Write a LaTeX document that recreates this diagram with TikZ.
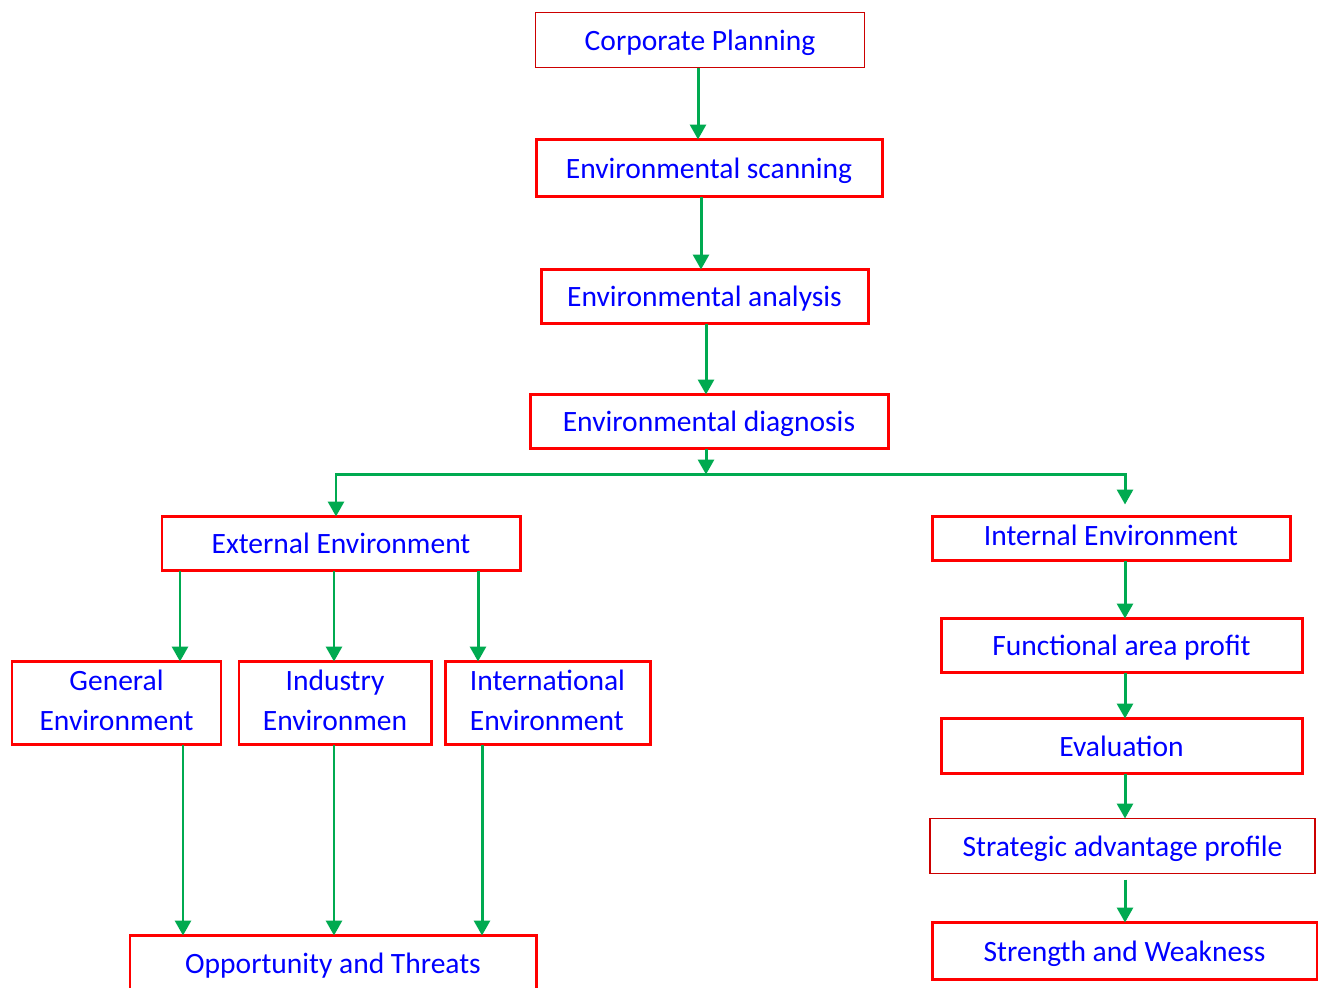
\documentclass[tikz,border=0pt]{standalone}
\usepackage{fontspec}
\setmainfont{Carlito}
\usepackage{tikz}
\usetikzlibrary{arrows.meta,positioning}
\definecolor{boxred}{RGB}{255,0,0}
\definecolor{flowgreen}{RGB}{0,170,80}
\definecolor{textblue}{RGB}{0,0,255}

\begin{document}
\begin{tikzpicture}[
  font=\fontsize{16.8}{22.8}\selectfont,
  block/.style={draw=boxred, line width=1.7pt, text=textblue, align=center,
    minimum height=10.8mm, inner sep=2pt, outer sep=0pt, text depth=0pt},
  thinblock/.style={block, draw=red!80!black, line width=0.9pt},
  flow/.style={-{Triangle[length=3mm, width=3.2mm]}, line width=1.7pt, draw=flowgreen}
]
\useasboundingbox (0,0) rectangle (263.6mm,-197.4mm);

% main chain
\node[thinblock, minimum width=65.8mm, minimum height=11mm] (corp) at (140mm,-8mm) {Corporate Planning};
\node[block, minimum width=69.2mm, minimum height=11.4mm, below=14.4mm of corp, xshift=1.8mm] (scan) {Environmental scanning};
\node[block, minimum width=65.4mm, below=14.6mm of scan, xshift=-0.9mm] (anal) {Environmental analysis};
\node[block, minimum width=71.6mm, below=14.2mm of anal, xshift=0.9mm] (diag) {Environmental diagnosis};

% external side
\node[block, minimum width=71.6mm, below=13.6mm of diag, xshift=-73.6mm] (ext) {External Environment};
\node[block, minimum width=41.8mm, minimum height=16.6mm, text depth=1.2mm, below=18.2mm of ext, xshift=-44.9mm] (gen) {General\\Environment};
\node[block, minimum width=38.4mm, minimum height=16.6mm, text depth=1.2mm, below=18.2mm of ext, xshift=-1.2mm] (ind) {Industry\\Environmen};
\node[block, minimum width=41mm, minimum height=16.6mm, text depth=1.2mm, align=left, below=18.2mm of ext, xshift=41.3mm] (intl) {International\\Environment};
\node[block, minimum width=81.2mm, minimum height=11mm, below=38.2mm of ind, xshift=-0.4mm] (opp) {Opportunity and Threats};

% internal side
\node[block, minimum width=71.6mm, minimum height=8.8mm, text depth=1.4mm, below=13.6mm of diag, xshift=80.4mm] (int) {Internal Environment};
\node[block, minimum width=72.2mm, below=11.6mm of int, xshift=2.1mm] (func) {Functional area profit};
\node[block, minimum width=72.2mm, minimum height=11mm, below=9.2mm of func] (eval) {Evaluation};
\node[thinblock, minimum width=77mm, minimum height=11mm, below=9mm of eval, xshift=0.2mm] (strat) {Strategic advantage profile};
\node[block, minimum width=77mm, minimum height=11.4mm, below=9.8mm of strat, xshift=0.4mm] (strong) {Strength and Weakness};

% arrows
\foreach \src/\dst/\dx in {corp/scan/-0.4mm, scan/anal/-1.6mm, anal/diag/0.3mm} {
  \coordinate (from) at ([xshift=\dx]\src.south);
  \draw[flow] (from) -- (from |- \dst.north);
}
\coordinate[below=5.2mm of diag.south, xshift=-0.6mm] (split);
\coordinate (extin) at ([xshift=-1mm]ext.north);
\coordinate (intin) at ([xshift=2.8mm, yshift=2.4mm]int.north);
\draw[flow] ([xshift=-0.6mm]diag.south) -- (split);
\draw[flow] (split) -| (extin);
\draw[flow] (split) -| (intin);

\foreach \dst/\dx in {gen/-32.2mm, ind/-1.4mm, intl/27.4mm} {
  \coordinate (from) at ([xshift=\dx]ext.south);
  \draw[flow] (from) -- (from |- \dst.north);
}
\foreach \src/\dx in {gen/13.3mm, ind/-0.2mm, intl/-13.1mm} {
  \coordinate (from) at ([xshift=\dx]\src.south);
  \draw[flow] (from) -- (from |- opp.north);
}
\foreach \src/\dst/\dx/\dy in {int/func/2.8mm/0mm, func/eval/0.7mm/0mm, eval/strat/0.7mm/0mm, strat/strong/0.5mm/-1.2mm} {
  \coordinate (from) at ([xshift=\dx, yshift=\dy]\src.south);
  \draw[flow] (from) -- (from |- \dst.north);
}
\end{tikzpicture}
\end{document}
